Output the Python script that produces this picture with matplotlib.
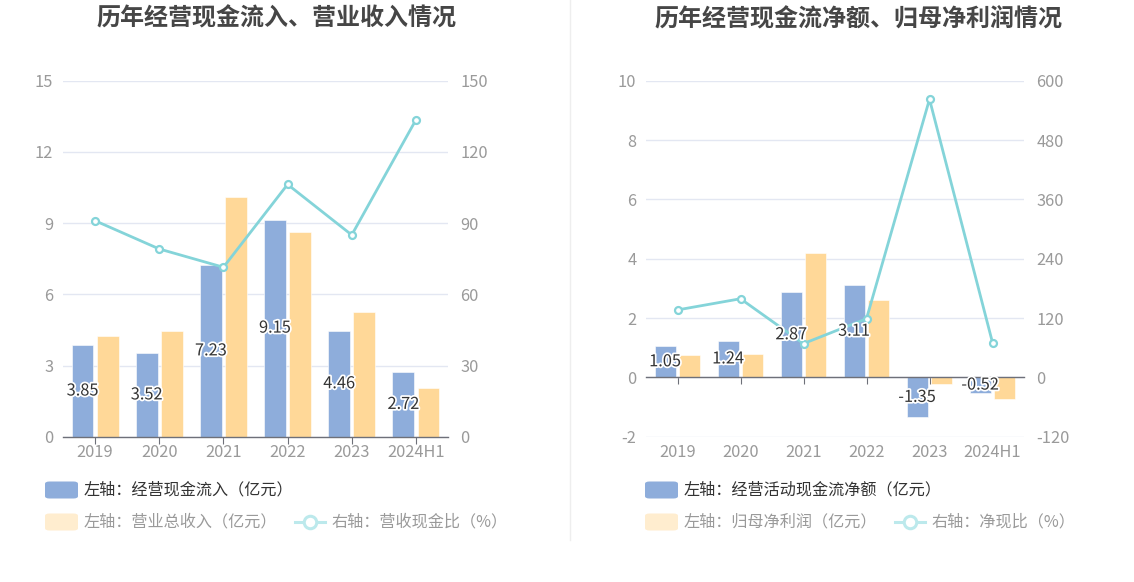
import matplotlib.pyplot as plt
import matplotlib.patheffects as pe
from matplotlib.patches import FancyBboxPatch
from matplotlib.lines import Line2D

plt.rcParams['font.family'] = ['Noto Sans CJK SC', 'DejaVu Sans']
plt.rcParams['axes.unicode_minus'] = False

# ── data ────────────────────────────────────────────────────────────────────
years = ['2019', '2020', '2021', '2022', '2023', '2024H1']

cash_inflow = [3.85, 3.52, 7.23, 9.15, 4.46, 2.72]        # 经营现金流入（亿元）
revenue = [4.23, 4.45, 10.12, 8.61, 5.25, 2.04]           # 营业总收入（亿元）
cash_rev_ratio = [91.0, 79.1, 71.4, 106.3, 85.0, 133.5]   # 营收现金比（%）

net_cash = [1.05, 1.24, 2.87, 3.11, -1.35, -0.52]         # 经营活动现金流净额（亿元）
net_profit = [0.77, 0.78, 4.20, 2.62, -0.24, -0.74]       # 归母净利润（亿元）
net_cash_ratio = [136.4, 159.0, 68.3, 118.7, 562.5, 70.3] # 净现比（%）

BLUE = '#8EADDB'
ORANGE = '#FFD898'
CYAN = '#84D4D9'
GRID = '#E3E7F2'
TICK = '#9A9A9A'
FS = 11.8

W, H = 1134, 582
fig = plt.figure(figsize=(W / 100, H / 100), dpi=100)
fig.patch.set_facecolor('white')


def px(x0, y0, x1, y1):
    return [x0 / W, 1 - y1 / H, (x1 - x0) / W, (y1 - y0) / H]


def panel(rect, bars_a, bars_b, line, ylim, yticks, y2lim, y2ticks, title, tx):
    ax = fig.add_axes(rect)
    ax2 = ax.twinx()
    xs = list(range(len(years)))
    bw, off = 0.34, 0.195

    ax.bar([x - off for x in xs], bars_a, width=bw, color=BLUE,
           edgecolor='white', linewidth=0.4, zorder=2)
    ax.bar([x + off for x in xs], bars_b, width=bw, color=ORANGE,
           edgecolor='white', linewidth=0.4, zorder=2)

    ax.set_xlim(-0.5, len(years) - 0.5)
    ax.set_ylim(*ylim)
    ax.set_yticks(yticks)
    ax.grid(axis='y', color=GRID, linewidth=1.0)
    ax.set_axisbelow(True)
    for s in ['top', 'right', 'left']:
        ax.spines[s].set_visible(False)
    ax.spines['bottom'].set_position(('data', 0))
    ax.spines['bottom'].set_color('#6E7079')
    ax.spines['bottom'].set_linewidth(1.0)
    ax.set_xticks(xs)
    ax.tick_params(axis='x', length=5, color='#6E7079', labelbottom=False)
    ax.tick_params(axis='y', length=0, labelsize=FS, labelcolor=TICK, pad=7)

    for x, lab in zip(xs, years):
        ax.annotate(lab, xy=(x, 0), xycoords=('data', 'axes fraction'),
                    xytext=(0, -11.5), textcoords='offset points',
                    ha='center', va='center', fontsize=FS, color=TICK)

    ax2.plot(xs, line, color=CYAN, linewidth=2.0, marker='o', markersize=5,
             markerfacecolor='white', markeredgecolor=CYAN,
             markeredgewidth=1.6, zorder=3)
    ax2.set_ylim(*y2lim)
    ax2.set_yticks(y2ticks)
    for s in ax2.spines.values():
        s.set_visible(False)
    ax2.tick_params(axis='y', length=0, labelsize=FS, labelcolor=TICK, pad=9)

    # value labels, drawn above the line
    for x, v in zip(xs, bars_a):
        ax2.text(x - off, v / 2, f'{v:.2f}', transform=ax.transData,
                 ha='center', va='center', fontsize=FS, color='#333333',
                 zorder=6,
                 path_effects=[pe.withStroke(linewidth=2.5, foreground='white')])

    fig.text(tx / W, 1 - 18 / H, title, ha='center', va='center',
             fontsize=17.3, fontweight='bold', color='#464646')
    return ax


panel(px(63, 80.7, 448, 436.7), cash_inflow, revenue, cash_rev_ratio,
      (0, 15), [0, 3, 6, 9, 12, 15], (0, 150), [0, 30, 60, 90, 120, 150],
      '历年经营现金流入、营业收入情况', 276)

panel(px(646, 80.7, 1024, 436.7), net_cash, net_profit, net_cash_ratio,
      (-2, 10), [-2, 0, 2, 4, 6, 8, 10], (-120, 600),
      [-120, 0, 120, 240, 360, 480, 600],
      '历年经营现金流净额、归母净利润情况', 858)

# separator
fig.add_artist(Line2D([570 / W, 570 / W], [1 - 540 / H, 1], color='#EEEEEE',
                      linewidth=1.0))


# ── legends ─────────────────────────────────────────────────────────────────
LFS = 11.6


def swatch(x, y, color):
    fig.add_artist(FancyBboxPatch(((x) / W, 1 - (y + 8.5) / H), 33 / W, 17 / H,
                                  boxstyle='round,pad=0,rounding_size=0.004',
                                  facecolor=color, edgecolor='none',
                                  transform=fig.transFigure))


def line_key(x, y):
    fig.add_artist(Line2D([x / W, (x + 30) / W], [1 - y / H, 1 - y / H],
                          color='#BCE9EC', linewidth=2.2))
    fig.add_artist(Line2D([(x + 15) / W], [1 - y / H], marker='o',
                          markersize=9, markerfacecolor='white',
                          markeredgecolor='#BCE9EC', markeredgewidth=2.2))


def legend(x0, first, second):
    swatch(x0, 490, BLUE)
    fig.text((x0 + 39) / W, 1 - 490 / H, first, ha='left', va='center',
             fontsize=LFS, color='#333333')
    swatch(x0, 522, '#FFEDCF')
    fig.text((x0 + 39) / W, 1 - 522 / H, second, ha='left', va='center',
             fontsize=LFS, color='#9A9A9A')


legend(45, '左轴：经营现金流入（亿元）', '左轴：营业总收入（亿元）')
line_key(295, 522)
fig.text(332 / W, 1 - 522 / H, '右轴：营收现金比（%）', ha='left', va='center',
         fontsize=LFS, color='#9A9A9A')

legend(645, '左轴：经营活动现金流净额（亿元）', '左轴：归母净利润（亿元）')
line_key(895, 522)
fig.text(932 / W, 1 - 522 / H, '右轴：净现比（%）', ha='left', va='center',
         fontsize=LFS, color='#9A9A9A')

fig.savefig('out.png', dpi=100, facecolor='white')
